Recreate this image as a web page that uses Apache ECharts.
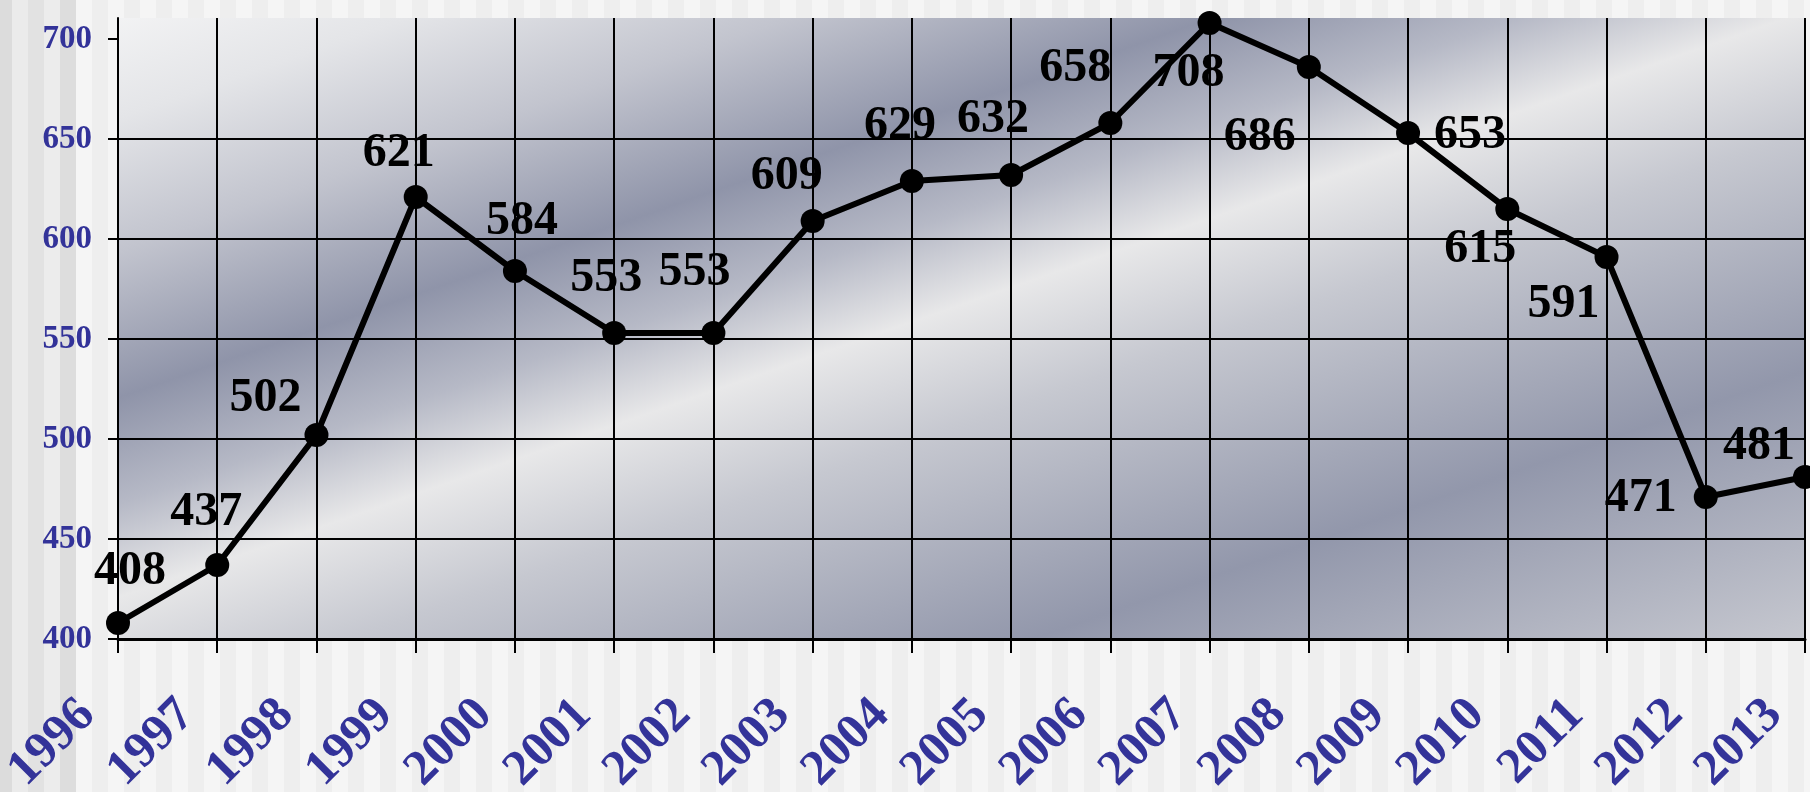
<!DOCTYPE html>
<html>
<head>
<meta charset="utf-8">
<script src="https://cdn.jsdelivr.net/npm/echarts@6/dist/echarts.min.js"></script>
<style>
  html, body { margin: 0; padding: 0; }
  body {
    width: 1810px; height: 792px; overflow: hidden;
    background:
      linear-gradient(90deg, #dcdcdc 0 12px, #ebebeb 12px 28px, #e2e2e2 28px 44px, #ececec 44px 60px, #dddddd 60px 76px, transparent 76px),
      repeating-linear-gradient(90deg, #eeeeee 0 12px, #f5f5f5 12px 28px, #eeeeee 28px 32px);
  }
  #chart { width: 1810px; height: 792px; }
</style>
</head>
<body>
<div id="chart"></div>
<script>
// ---- data ----
const years = ['1996','1997','1998','1999','2000','2001','2002','2003','2004','2005','2006','2007','2008','2009','2010','2011','2012','2013'];
const values = [408, 437, 502, 621, 584, 553, 553, 609, 629, 632, 658, 708, 686, 653, 615, 591, 471, 481];
const yTickValues = [400, 450, 500, 550, 600, 650, 700];

// ---- label placement (style only, px) ----
const labelOffsets = [
  [12, -51], [-11, -52], [-51, -36], [-17, -43], [7, -49], [-8, -54],
  [-19, -60], [-26, -44], [-12, -54], [-18, -55], [-35, -54], [-21, 51],
  [-49, 71], [62, 3], [-27, 41], [-43, 48], [-65, 2], [-46, -30]
];

const chart = echarts.init(document.getElementById('chart'), null, { renderer: 'canvas' });

const plotFill = new echarts.graphic.LinearGradient(0, 0, 412, 1187, [
  { offset: 0.00, color: '#fafafa' },
  { offset: 0.12, color: '#e4e5e8' },
  { offset: 0.22, color: '#c2c4ce' },
  { offset: 0.33, color: '#8f94a9' },
  { offset: 0.41, color: '#b6b9c6' },
  { offset: 0.48, color: '#e8e8e9' },
  { offset: 0.57, color: '#c6c8d0' },
  { offset: 0.75, color: '#9297ab' },
  { offset: 1.00, color: '#d2d3d8' }
], true);

const serif = '"Liberation Serif", "Times New Roman", serif';

chart.setOption({
  animation: false,
  backgroundColor: 'transparent',
  grid: {
    left: 118, right: 5, top: 18, bottom: 153,
    containLabel: false,
    outerBoundsMode: 'none',
    show: true, backgroundColor: plotFill, borderWidth: 0
  },
  xAxis: {
    type: 'category',
    data: years,
    boundaryGap: false,
    axisLine: { show: true, lineStyle: { color: '#000', width: 3 } },
    axisTick: { show: true, length: 14, interval: 0, lineStyle: { color: '#000', width: 2 } },
    splitLine: { show: true, interval: 0, lineStyle: { color: '#000', width: 2 } },
    axisLabel: {
      interval: 0, rotate: 45, margin: 38,
      padding: [0, 43, 0, 0],
      color: '#333399', fontFamily: serif, fontWeight: 'bold', fontSize: 50
    }
  },
  yAxis: {
    type: 'value',
    min: 400, max: 710.5, interval: 50,
    axisLine: { show: true, lineStyle: { color: '#000', width: 2 } },
    axisTick: { show: true, length: 10, customValues: yTickValues, lineStyle: { color: '#000', width: 2 } },
    splitLine: { show: true, showMaxLine: false, lineStyle: { color: '#000', width: 2 } },
    axisLabel: {
      customValues: yTickValues, margin: 26,
      color: '#333399', fontFamily: serif, fontWeight: 'bold', fontSize: 33
    }
  },
  series: [{
    type: 'line',
    clip: false,
    data: values,
    symbol: 'circle',
    symbolSize: 24,
    lineStyle: { color: '#000', width: 6 },
    itemStyle: { color: '#000' },
    label: {
      show: true, position: 'inside',
      color: '#000', fontFamily: serif, fontWeight: 'bold', fontSize: 48
    },
    labelLayout: function (params) {
      const o = labelOffsets[params.dataIndex];
      return { dx: o[0], dy: o[1], hideOverlap: false };
    }
  }]
});
</script>
</body>
</html>
